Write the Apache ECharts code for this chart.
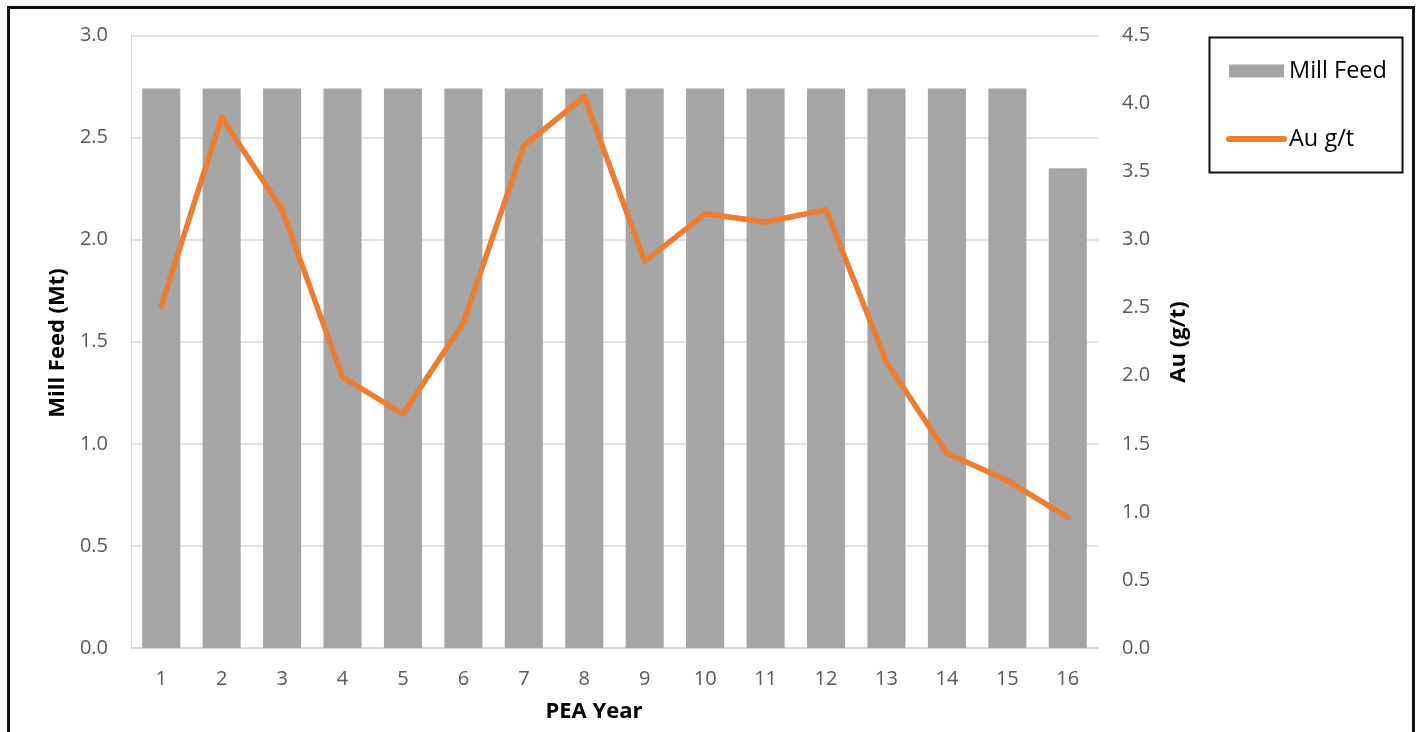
<!DOCTYPE html>
<html>
<head>
<meta charset="utf-8">
<title>Mill Feed and Au Grade by PEA Year</title>
<script src="https://cdn.jsdelivr.net/npm/echarts@6/dist/echarts.min.js"></script>
<style>
  html, body { margin: 0; padding: 0; background: #ffffff; }
  #chart { width: 1418px; height: 732px; }
</style>
</head>
<body>
<div id="chart"></div>
<script>
// PEA production schedule
const years = ['1','2','3','4','5','6','7','8','9','10','11','12','13','14','15','16'];
const millFeed = [2.74, 2.74, 2.74, 2.74, 2.74, 2.74, 2.74, 2.74, 2.74, 2.74, 2.74, 2.74, 2.74, 2.74, 2.74, 2.35];
const auGrade = [2.51, 3.90, 3.22, 1.99, 1.72, 2.39, 3.69, 4.05, 2.84, 3.19, 3.13, 3.22, 2.10, 1.43, 1.23, 0.96];

const FONT = '"Open Sans", "Noto Sans", sans-serif';
const GREY_TEXT = '#595959';
const ORANGE = '#ed7d31';

const chart = echarts.init(document.getElementById('chart'), null, { renderer: 'canvas' });

chart.setOption({
  backgroundColor: '#ffffff',
  animation: false,
  textStyle: { fontFamily: FONT },
  grid: { left: 131, right: 320, top: 35.5, bottom: 84, containLabel: false },
  legend: {
    orient: 'vertical',
    left: 1226,
    top: 57,
    padding: 0,
    itemWidth: 55,
    itemHeight: 13,
    itemGap: 40,
    textStyle: { fontFamily: FONT, fontSize: 23.5, color: '#000000', lineHeight: 28 },
    data: [
      { name: 'Mill Feed', icon: 'rect' },
      {
        name: 'Au g/t',
        itemStyle: { opacity: 0 },
        lineStyle: { width: 6, cap: 'round', color: ORANGE }
      }
    ]
  },
  xAxis: {
    type: 'category',
    data: years,
    axisLine: { show: true, lineStyle: { color: '#d9d9d9', width: 1.5 } },
    axisTick: { show: false },
    axisLabel: { color: GREY_TEXT, fontSize: 20, margin: 21, fontFamily: FONT },
    splitLine: { show: false }
  },
  yAxis: [
    {
      type: 'value',
      min: 0,
      max: 3,
      interval: 0.5,
      axisLine: { show: true, lineStyle: { color: '#d0d0d0', width: 1 } },
      axisTick: { show: false },
      axisLabel: { color: GREY_TEXT, fontSize: 20, margin: 23, fontFamily: FONT,
        formatter: v => v.toFixed(1) },
      splitLine: { show: true, lineStyle: { color: '#d9d9d9', width: 1.5 } }
    },
    {
      type: 'value',
      min: 0,
      max: 4.5,
      interval: 0.5,
      position: 'right',
      axisLine: { show: false },
      axisTick: { show: false },
      axisLabel: { color: GREY_TEXT, fontSize: 20, margin: 24, fontFamily: FONT,
        formatter: v => v.toFixed(1) },
      splitLine: { show: false }
    }
  ],
  series: [
    {
      name: 'Mill Feed',
      type: 'bar',
      yAxisIndex: 0,
      data: millFeed,
      barCategoryGap: '37%',
      itemStyle: { color: '#a5a5a5' },
      z: 2
    },
    {
      name: 'Au g/t',
      type: 'line',
      yAxisIndex: 1,
      data: auGrade,
      symbol: 'none',
      lineStyle: { color: ORANGE, width: 5.5, join: 'round', cap: 'round' },
      itemStyle: { color: ORANGE },
      z: 3
    }
  ],
  graphic: [
    // outer frame
    {
      type: 'rect',
      shape: { x: 8.5, y: 7.5, width: 1405, height: 740 },
      style: { fill: null, stroke: '#111111', lineWidth: 3 },
      silent: true
    },
    // legend box
    {
      type: 'rect',
      shape: { x: 1209.5, y: 37.5, width: 193, height: 135 },
      style: { fill: null, stroke: '#111111', lineWidth: 2 },
      silent: true
    },
    // axis titles
    {
      type: 'text',
      x: 58, y: 343,
      rotation: Math.PI / 2,
      style: { text: 'Mill Feed (Mt)', font: 'bold 22px ' + FONT, fill: '#000000',
        align: 'center', verticalAlign: 'middle' }
    },
    {
      type: 'text',
      x: 1179, y: 342,
      rotation: Math.PI / 2,
      style: { text: 'Au (g/t)', font: 'bold 22px ' + FONT, fill: '#000000',
        align: 'center', verticalAlign: 'middle' }
    },
    {
      type: 'text',
      x: 594, y: 712,
      style: { text: 'PEA Year', font: 'bold 22px ' + FONT, fill: '#000000',
        align: 'center', verticalAlign: 'middle' }
    }
  ]
});
</script>
</body>
</html>
